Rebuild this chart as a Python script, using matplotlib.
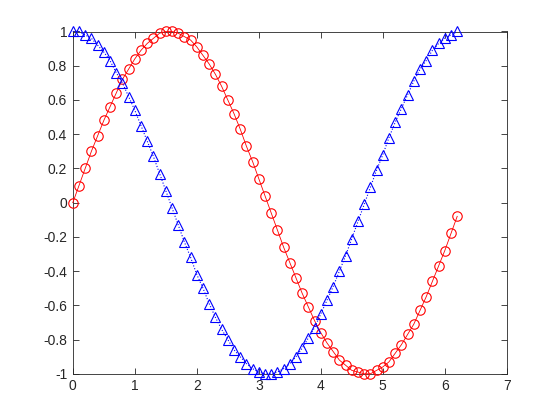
import matplotlib
matplotlib.use("Agg")
import matplotlib.pyplot as plt

x = [0.0, 0.1, 0.2, 0.3, 0.4, 0.5, 0.6, 0.7, 0.8, 0.9,
     1.0, 1.1, 1.2, 1.3, 1.4, 1.5, 1.6, 1.7, 1.8, 1.9,
     2.0, 2.1, 2.2, 2.3, 2.4, 2.5, 2.6, 2.7, 2.8, 2.9,
     3.0, 3.1, 3.2, 3.3, 3.4, 3.5, 3.6, 3.7, 3.8, 3.9,
     4.0, 4.1, 4.2, 4.3, 4.4, 4.5, 4.6, 4.7, 4.8, 4.9,
     5.0, 5.1, 5.2, 5.3, 5.4, 5.5, 5.6, 5.7, 5.8, 5.9,
     6.0, 6.1, 6.2]

sin_vals = [0.00, 0.10, 0.20, 0.30, 0.39, 0.48, 0.56, 0.64, 0.72, 0.78,
            0.84, 0.89, 0.93, 0.96, 0.99, 1.00, 1.00, 0.99, 0.97, 0.95,
            0.91, 0.86, 0.81, 0.75, 0.68, 0.60, 0.52, 0.43, 0.33, 0.24,
            0.14, 0.04, -0.06, -0.16, -0.26, -0.35, -0.44, -0.53, -0.61, -0.69,
            -0.76, -0.82, -0.87, -0.92, -0.95, -0.98, -0.99, -1.00, -1.00, -0.98,
            -0.96, -0.93, -0.88, -0.83, -0.77, -0.71, -0.63, -0.55, -0.46, -0.37,
            -0.28, -0.18, -0.08]

cos_vals = [1.00, 1.00, 0.98, 0.96, 0.92, 0.88, 0.83, 0.76, 0.70, 0.62,
            0.54, 0.45, 0.36, 0.27, 0.17, 0.07, -0.03, -0.13, -0.23, -0.32,
            -0.42, -0.50, -0.59, -0.67, -0.74, -0.80, -0.86, -0.90, -0.94, -0.97,
            -0.99, -1.00, -1.00, -0.99, -0.97, -0.94, -0.90, -0.85, -0.79, -0.73,
            -0.65, -0.57, -0.49, -0.40, -0.31, -0.21, -0.11, -0.01, 0.09, 0.19,
            0.28, 0.38, 0.47, 0.55, 0.63, 0.71, 0.78, 0.83, 0.89, 0.93,
            0.96, 0.98, 1.00]

xticks = [0, 1, 2, 3, 4, 5, 6, 7]
xtick_labels = ["0", "1", "2", "3", "4", "5", "6", "7"]
yticks = [-1, -0.8, -0.6, -0.4, -0.2, 0, 0.2, 0.4, 0.6, 0.8, 1]
ytick_labels = ["-1", "-0.8", "-0.6", "-0.4", "-0.2", "0", "0.2", "0.4", "0.6", "0.8", "1"]

plt.rcParams['font.family'] = ['Liberation Sans', 'DejaVu Sans']
dark = (0.15, 0.15, 0.15)

fig = plt.figure(figsize=(5.6, 4.2), dpi=100)
ax = fig.add_axes([0.13, 0.11, 0.775, 0.815])

ax.plot(x, sin_vals, color='red', linestyle='-', linewidth=0.6,
        marker='o', markersize=6.8, markerfacecolor='none', markeredgewidth=0.8,
        clip_on=False, zorder=3)
ax.plot(x, cos_vals, color='blue', linestyle=':', linewidth=0.8,
        marker='^', markersize=6.8, markerfacecolor='none', markeredgewidth=0.8,
        clip_on=False, zorder=3)

ax.set_xlim(0, 7)
ax.set_ylim(-1, 1)
ax.set_xticks(xticks)
ax.set_xticklabels(xtick_labels)
ax.set_yticks(yticks)
ax.set_yticklabels(ytick_labels)
ax.tick_params(direction='in', top=True, right=True, length=4, width=0.6,
               colors=dark, labelsize=10, pad=4)
for s in ax.spines.values():
    s.set_color(dark)
    s.set_linewidth(0.6)

fig.savefig("out.png", dpi=100)
